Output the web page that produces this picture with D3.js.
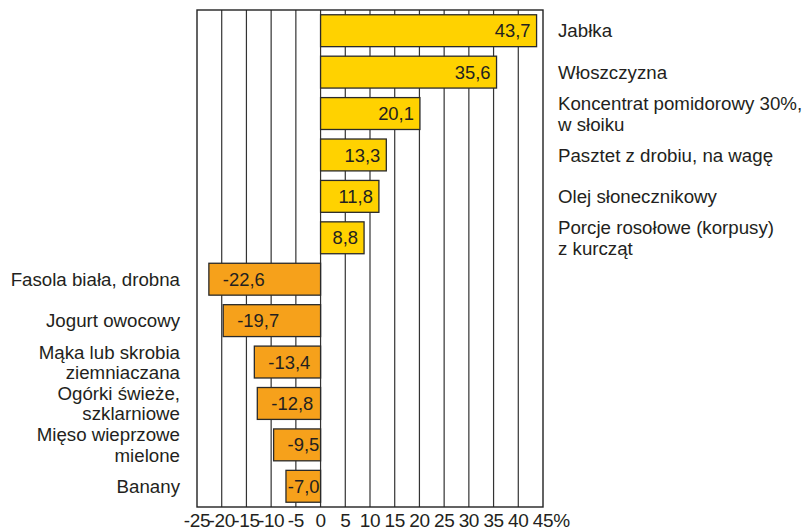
<!DOCTYPE html>
<html>
<head>
<meta charset="utf-8">
<script src="https://cdn.jsdelivr.net/npm/d3@7"></script>
<style>
  html, body { margin: 0; padding: 0; background: #fff; }
  svg { display: block; font-family: "Liberation Sans", Arial, sans-serif; }
</style>
</head>
<body>
<svg id="chart" width="803" height="530"></svg>
<script>
// ---- data ----
const categories = [
  "Jabłka",
  "Włoszczyzna",
  "Koncentrat pomidorowy 30%,|w słoiku",
  "Pasztet z drobiu, na wagę",
  "Olej słonecznikowy",
  "Porcje rosołowe (korpusy)|z kurcząt",
  "Fasola biała, drobna",
  "Jogurt owocowy",
  "Mąka lub skrobia|ziemniaczana",
  "Ogórki świeże,|szklarniowe",
  "Mięso wieprzowe|mielone",
  "Banany"
];
const values = [43.7, 35.6, 20.1, 13.3, 11.8, 8.8, -22.6, -19.7, -13.4, -12.8, -9.5, -7.0];
const tickValues = [-25, -20, -15, -10, -5, 0, 5, 10, 15, 20, 25, 30, 35, 40, 45];
const tickLabels = ["-25", "-20", "-15", "-10", "-5", "0", "5", "10", "15", "20", "25", "30", "35", "40", "45%"];

// ---- drawing ----
const svg = d3.select("#chart");
const textColor = "#231f20";
const posColor = "#ffd200";
const negColor = "#f6a11b";

const x = d3.scaleLinear().domain([-25, 45]).range([197, 543]);
const y = d3.scaleBand().domain(d3.range(categories.length)).range([10, 507])
  .paddingInner(0.23).paddingOuter(0.115);

const loc = d3.formatLocale({decimal: ",", thousands: " ", grouping: [3], currency: ["", ""], minus: "-"});
const fmt = loc.format(".1f");

// grid lines
svg.append("g").selectAll("line")
  .data(tickValues.slice(1, -1))
  .join("line")
  .attr("x1", d => x(d)).attr("x2", d => x(d))
  .attr("y1", y.range()[0]).attr("y2", y.range()[1])
  .attr("stroke", "#333").attr("stroke-width", 1.2);

// frame
svg.append("rect")
  .attr("x", x(-25)).attr("y", y.range()[0])
  .attr("width", x(45) - x(-25)).attr("height", y.range()[1] - y.range()[0])
  .attr("fill", "none").attr("stroke", "#222").attr("stroke-width", 1.4);

// bars
const rows = values.map((v, i) => ({v, i, cat: categories[i]}));
svg.append("g").selectAll("rect")
  .data(rows)
  .join("rect")
  .attr("x", d => Math.min(x(0), x(d.v)))
  .attr("width", d => Math.abs(x(d.v) - x(0)))
  .attr("y", d => y(d.i))
  .attr("height", y.bandwidth())
  .attr("fill", d => d.v >= 0 ? posColor : negColor)
  .attr("stroke", "#2a2a2a").attr("stroke-width", 1.3);

// value labels
const vl = svg.append("g").style("font-size", "18.4px").attr("fill", textColor);
rows.forEach(d => {
  const t = vl.append("text")
    .attr("y", y(d.i) + y.bandwidth() / 2)
    .attr("dy", "0.36em")
    .text(fmt(d.v));
  if (d.v >= 0) {
    t.attr("x", x(d.v) - 6).attr("text-anchor", "end");
  } else {
    const w = t.node().getComputedTextLength();
    t.attr("x", Math.min(x(d.v) + 14, x(0) - w - 1)).attr("text-anchor", "start");
  }
});

// category labels
const cl = svg.append("g").style("font-size", "18.7px").attr("fill", textColor);
const lh = 20.5;
rows.forEach(d => {
  const lines = d.cat.split("|");
  const cy = y(d.i) + y.bandwidth() / 2;
  const t = cl.append("text")
    .attr("text-anchor", d.v >= 0 ? "start" : "end");
  const xx = d.v >= 0 ? 558 : 180;
  lines.forEach((ln, k) => {
    t.append("tspan")
      .attr("x", xx)
      .attr("y", cy + (k - (lines.length - 1) / 2) * lh)
      .attr("dy", "0.36em")
      .text(ln);
  });
});

// axis tick labels
const al = svg.append("g").style("font-size", "19px").style("letter-spacing", "-0.4px").attr("fill", textColor);
tickValues.forEach((v, i) => {
  const lab = tickLabels[i];
  const t = al.append("text").attr("y", 527).text(lab);
  if (lab.endsWith("%")) {
    const tmp = al.append("text").text(lab.slice(0, -1));
    const w = tmp.node().getComputedTextLength();
    tmp.remove();
    t.attr("x", x(v) - w / 2).attr("text-anchor", "start");
  } else {
    t.attr("x", x(v)).attr("text-anchor", "middle");
  }
});
</script>
</body>
</html>
